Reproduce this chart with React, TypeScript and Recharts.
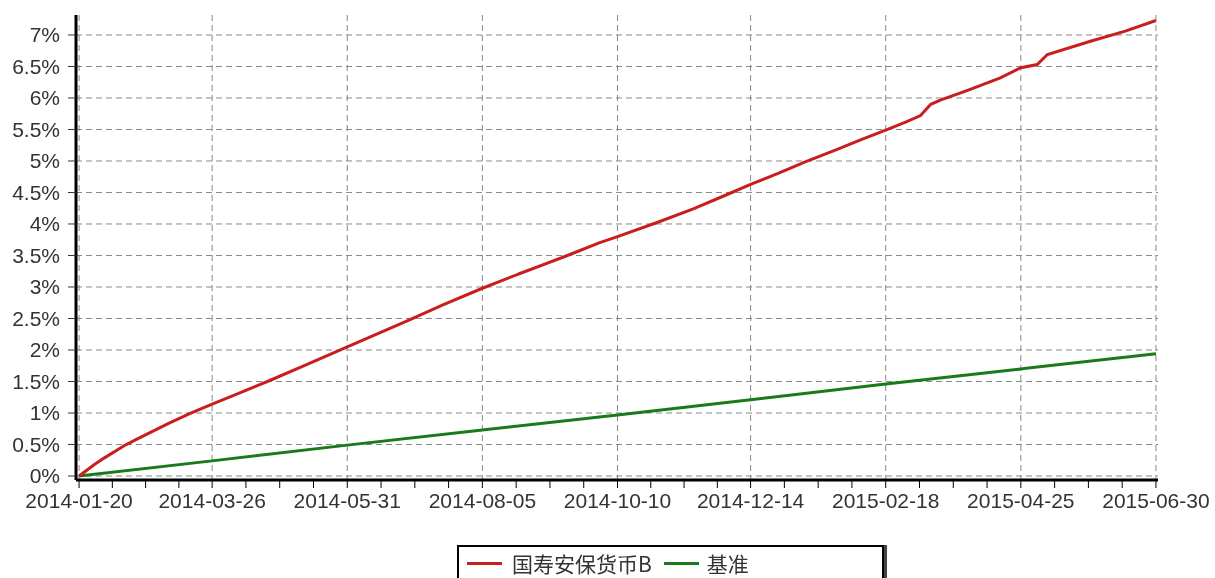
import React from "react";
import { LineChart, Line, XAxis, YAxis, CartesianGrid } from "recharts";

const START = "2014-01-20";

const tickDates = [
  "2014-01-20", "2014-03-26", "2014-05-31", "2014-08-05", "2014-10-10",
  "2014-12-14", "2015-02-18", "2015-04-25", "2015-06-30",
];

const fundDates = [
  "2014-01-20", "2014-01-27", "2014-02-01", "2014-02-11", "2014-02-17", "2014-03-05",
  "2014-03-15", "2014-03-26", "2014-04-07", "2014-04-22", "2014-05-10", "2014-05-31",
  "2014-06-29", "2014-07-17", "2014-08-05", "2014-08-23", "2014-09-14", "2014-10-01",
  "2014-10-10", "2014-10-29", "2014-11-16", "2014-12-02", "2014-12-14", "2014-12-28",
  "2015-01-10", "2015-01-25", "2015-02-06", "2015-02-18", "2015-02-28", "2015-03-07",
  "2015-03-12", "2015-03-17", "2015-03-30", "2015-04-15", "2015-04-25", "2015-05-03",
  "2015-05-08", "2015-05-29", "2015-06-15", "2015-06-30",
];
const fundValues = [
  0, 0.17, 0.28, 0.48, 0.58, 0.84,
  0.99, 1.14, 1.3, 1.5, 1.75, 2.05,
  2.46, 2.72, 2.98, 3.21, 3.48, 3.7,
  3.8, 4.02, 4.24, 4.46, 4.63, 4.81,
  4.99, 5.18, 5.34, 5.49, 5.62, 5.72,
  5.9, 5.97, 6.12, 6.32, 6.48, 6.53,
  6.69, 6.9, 7.06, 7.23,
];

const benchDates = tickDates;
const benchValues = [0, 0.24, 0.49, 0.73, 0.97, 1.21, 1.46, 1.7, 1.94];

const yTicks = [0, 0.5, 1, 1.5, 2, 2.5, 3, 3.5, 4, 4.5, 5, 5.5, 6, 6.5, 7];

const FUND_NAME = "国寿安保货币B";
const BENCH_NAME = "基准";
const RED = "#c81e1e";
const GREEN = "#1a7a1a";

const dayOf = (s: string) =>
  Math.round((Date.parse(s) - Date.parse(START)) / 86400000);

const fundData = fundDates.map((d, i) => ({ x: dayOf(d), v: fundValues[i] }));
const benchData = benchDates.map((d, i) => ({ x: dayOf(d), v: benchValues[i] }));

const majorDays = tickDates.map(dayOf);
const allTicks: number[] = [];
for (let i = 0; i < majorDays.length; i++) {
  allTicks.push(majorDays[i]);
  if (i < majorDays.length - 1) {
    const a = majorDays[i];
    const b = majorDays[i + 1];
    for (let k = 1; k < 4; k++) allTicks.push(a + ((b - a) * k) / 4);
  }
}
const labelOf: Record<number, string> = {};
majorDays.forEach((d, i) => (labelOf[d] = tickDates[i]));

const FONT = "'Liberation Sans', Arial, sans-serif";

const XTick = (props: any) => {
  const { x, y, payload } = props;
  const lbl = labelOf[payload.value];
  if (!lbl) return null;
  return (
    <text x={x} y={y} dy="0.71em" textAnchor="middle" fill="#333" fontSize={21} fontFamily={FONT}>
      {lbl}
    </text>
  );
};

export default function App() {
  return (
    <div style={{ position: "fixed", left: 8, top: 8, width: 1207, height: 570, overflow: "hidden" }}>
      <LineChart
        width={1207}
        height={570}
        margin={{ top: 7, right: 57, left: 0, bottom: 68 }}
      >
        <CartesianGrid
          stroke="#888"
          strokeDasharray="6 4"
          syncWithTicks
          verticalValues={majorDays}
          horizontalValues={yTicks}
        />
        <XAxis
          type="number"
          dataKey="x"
          domain={[-1.5, 527]}
          ticks={allTicks}
          interval={0}
          allowDataOverflow
          height={30}
          tickSize={8}
          tickMargin={5}
          tick={<XTick />}
          axisLine={{ stroke: "#000", strokeWidth: 3 }}
          tickLine={{ stroke: "#000", strokeWidth: 1 }}
        />
        <YAxis
          type="number"
          domain={[-0.0635, 7.317]}
          ticks={yTicks}
          interval={0}
          allowDataOverflow
          width={68}
          tickSize={8}
          tickMargin={8}
          tickFormatter={(v: number) => `${v}%`}
          tick={{ fill: "#333", fontSize: 21, fontFamily: FONT }}
          axisLine={{ stroke: "#000", strokeWidth: 3 }}
          tickLine={{ stroke: "#333", strokeWidth: 1 }}
        />
        <Line
          data={benchData}
          dataKey="v"
          type="linear"
          stroke={GREEN}
          strokeWidth={3}
          dot={false}
          isAnimationActive={false}
          name={BENCH_NAME}
        />
        <Line
          data={fundData}
          dataKey="v"
          type="linear"
          stroke={RED}
          strokeWidth={3}
          dot={false}
          isAnimationActive={false}
          name={FUND_NAME}
        />
      </LineChart>
      <div
        style={{
          position: "absolute",
          left: 449,
          top: 537,
          width: 427,
          height: 40,
          border: "2px solid #000",
          boxShadow: "3px 0 0 #444",
          background: "#fff",
          fontFamily: "'Noto Sans CJK SC', sans-serif",
          fontSize: 21,
          color: "#333",
          boxSizing: "border-box",
        }}
      >
        <div style={{ display: "flex", alignItems: "center", height: 32, marginLeft: 8 }}>
          <span style={{ display: "inline-block", width: 35, height: 3, background: RED, marginRight: 10 }} />
          <span style={{ lineHeight: "24px" }}>{FUND_NAME}</span>
          <span style={{ display: "inline-block", width: 35, height: 3, background: GREEN, marginLeft: 12, marginRight: 8 }} />
          <span style={{ lineHeight: "24px" }}>{BENCH_NAME}</span>
        </div>
      </div>
    </div>
  );
}
